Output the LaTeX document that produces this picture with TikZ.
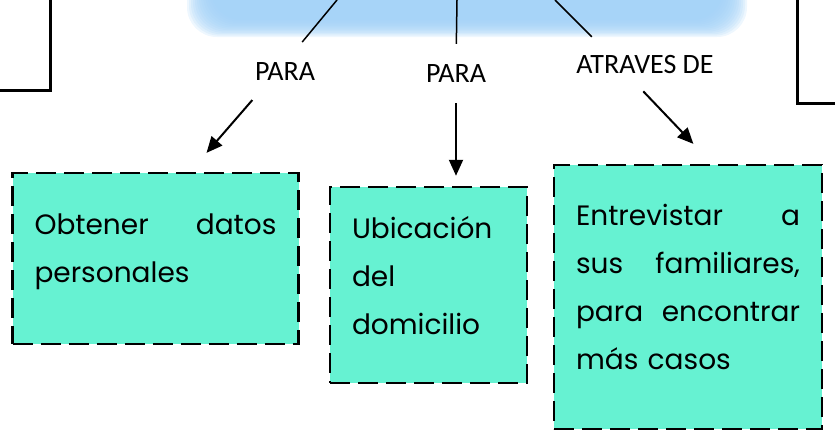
\documentclass[tikz,border=0pt]{standalone}
\usepackage{fontspec}
\usetikzlibrary{arrows.meta,calc}
\newfontfamily\tagfont{Carlito}
\newfontfamily\ideafont{Poppins}
\definecolor{cloudblue}{RGB}{160,208,247}
\definecolor{ideagreen}{RGB}{102,242,210}
\begin{document}
\begin{tikzpicture}[x=1pt,y=-1pt]
	\tikzstyle{tag}=[font=\tagfont\fontsize{28}{30}\selectfont,inner sep=0pt]
	\tikzstyle{idea}=[draw=black,line width=2.5pt,dash pattern=on 20pt off 8pt,fill=ideagreen,font=\ideafont\fontsize{28}{48}\selectfont,align=left,inner xsep=22pt]
	\tikzstyle{link}=[draw,line width=1.5pt]
	\tikzstyle{pointer}=[draw,line width=2pt,-{Triangle[length=16pt,width=14pt]}]
	\useasboundingbox (0,0) rectangle (835,432);
	% nube del tema
	\foreach \i in {0,...,12}
		\fill[cloudblue,fill opacity=0.18,rounded corners=30pt] (187+2*\i,-40) rectangle (747-2*\i,37-1.4*\i);
	% cuadros cortados
	\draw[line width=3pt] (-5,-5) rectangle (50,90);
	\draw[line width=3pt] (797,-5) rectangle (845,103);
	\begin{scope}
		\coordinate (t1) at (337,0);
		\coordinate (t2) at (457,0);
		\coordinate (t3) at (555,0);
		\node [tag] (p1) at (285,72) {PARA};
		\node [tag] (p2) at (456,74) {PARA};
		\node [tag] (p3) at (645,65) {ATRAVES DE};
		\node [idea,text width=242pt,minimum height=171pt] (b1) at (155.5,258.5) {Obtener\hfill datos\\personales\\[-28pt]\mbox{}};
		\node [idea,text width=153pt,minimum height=196pt] (b2) at (428.5,285) {Ubicación\\del\\domicilio\\[-28pt]\mbox{}};
		\node [idea,text width=224pt,minimum height=264pt] (b3) at (688,297) {Entrevistar\hfill a\\sus\hfill familiares,\\para\hfill encontrar\\más casos\\[-28pt]\mbox{}};
		\path[link,shorten >=27pt] (t1) -- (p1.north);
		\path[link,shorten >=21pt] (t2) -- (p2.north);
		\path[link,shorten >=26.6pt] (t3) -- ($(p3.north west)!0.25!(p3.north east)$);
		\path[pointer,shorten <=25pt,shorten >=25pt] ($(p1.south west)!0.23!(p1.south east)$) -- ($(b1.north west)!0.62!(b1.north east)$);
		\path[pointer,shorten <=20pt,shorten >=10pt] (p2.south) -- (p2.south |- b2.north);
		\path[pointer,shorten <=23.4pt,shorten >=27.5pt] ($(p3.south west)!0.37!(p3.south east)$) -- ($(b3.north west)!0.59!(b3.north east)$);
	\end{scope}
\end{tikzpicture}
\end{document}
